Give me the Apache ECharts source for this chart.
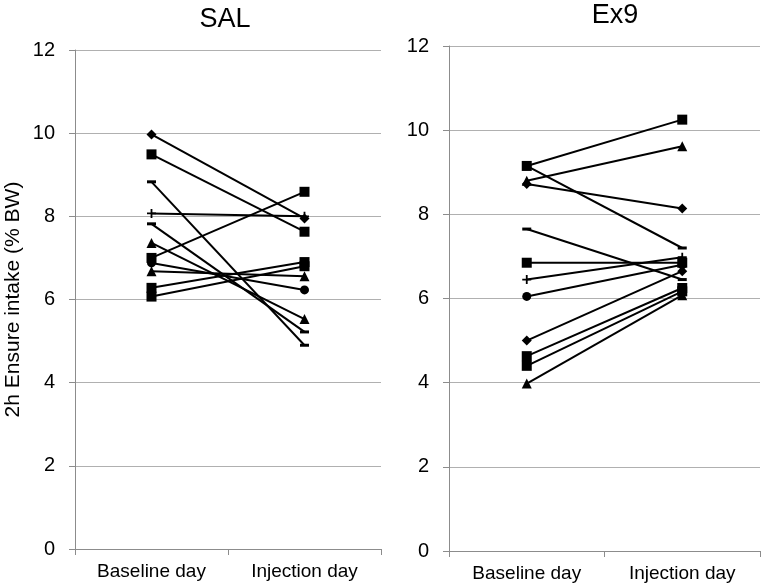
<!DOCTYPE html>
<html><head><meta charset="utf-8">
<script src="https://cdn.jsdelivr.net/npm/echarts@6/dist/echarts.min.js"></script>
<style>html,body{margin:0;padding:0;background:#fff}#c{width:763px;height:586px}</style>
</head><body><div id="c"></div>
<script>
const categories = ['Baseline day', 'Injection day'];
const yTicks = [0, 2, 4, 6, 8, 10, 12];
const panelTitles = ['SAL', 'Ex9'];
const yAxisTitle = '2h Ensure intake (% BW)';

const salBaseline  = [9.97, 9.49, 8.83, 8.07, 7.82, 7.36, 7.00, 6.88, 6.68, 6.28, 6.07];
const salInjection = [7.95, 7.63, 4.90, 8.00, 5.22, 5.53, 8.59, 6.23, 6.56, 6.90, 6.80];
const salMarkers   = ['diamond','rect','dash','plus','dash','triangle','rect','circle','triangle','rect','rect'];

const ex9Baseline  = [9.15, 9.15, 8.80, 8.72, 7.65, 6.85, 6.45, 6.05, 5.00, 4.63, 4.40, 3.98];
const ex9Injection = [10.25, 7.20, 9.62, 8.14, 6.45, 6.85, 6.98, 6.80, 6.65, 6.25, 6.17, 6.08];
const ex9Markers   = ['rect','dash','triangle','diamond','dash','rect','plus','circle','diamond','rect','rect','triangle'];

const shapes = {
  diamond: {symbol: 'diamond', size: 10},
  rect: {symbol: 'rect', size: 10},
  triangle: {symbol: 'triangle', size: 10},
  circle: {symbol: 'circle', size: 9},
  dash: {symbol: 'path://M0,0L10,0L10,3L0,3Z', size: [9, 3]},
  plus: {symbol: 'path://M4,0H6V4H10V6H6V10H4V6H0V4H4Z', size: 9}
};

const chart = echarts.init(document.getElementById('c'), null, {renderer: 'canvas'});
const FONT = 'Liberation Sans, Arial, sans-serif';

function makeX(gi) {
  return {
    type: 'category', gridIndex: gi, data: categories, boundaryGap: true,
    axisLine: {lineStyle: {color: '#8c8c8c', width: 1}},
    axisTick: {show: true, length: 6, alignWithLabel: false, lineStyle: {color: '#8c8c8c'}},
    axisLabel: {color: '#000', fontSize: 19, fontFamily: FONT, margin: 13}
  };
}
function makeY(gi) {
  return {
    type: 'value', gridIndex: gi, min: 0, max: 12, interval: 2,
    axisLine: {show: true, lineStyle: {color: '#8c8c8c', width: 1}},
    axisTick: {show: true, length: 6, lineStyle: {color: '#8c8c8c'}},
    splitLine: {show: true, lineStyle: {color: '#b0b0b0', width: 1}},
    axisLabel: {color: '#000', fontSize: 20, fontFamily: FONT, margin: 20,
      formatter: v => yTicks.indexOf(v) >= 0 ? String(v) : ''},
    name: gi === 0 ? yAxisTitle : '', nameLocation: 'middle', nameGap: 51,
    nameTextStyle: {color: '#000', fontSize: 21, fontFamily: FONT}
  };
}

function makeSeries(base, inj, marks, gi) {
  return base.map((b, i) => {
    const s = shapes[marks[i]];
    return {
      type: 'line', xAxisIndex: gi, yAxisIndex: gi,
      data: [[categories[0], b], [categories[1], inj[i]]],
      symbol: s.symbol, symbolSize: s.size, showSymbol: true,
      lineStyle: {color: '#000', width: 2},
      itemStyle: {color: '#000', borderWidth: 0},
      emphasis: {disabled: true}, animation: false, z: 3
    };
  });
}

chart.setOption({
  backgroundColor: '#fff',
  animation: false,
  title: [
    {text: panelTitles[0], left: 220, top: 1, textAlign: 'center',
     textStyle: {fontSize: 27, fontWeight: 'normal', color: '#000', fontFamily: FONT}},
    {text: panelTitles[1], left: 610, top: -3, textAlign: 'center',
     textStyle: {fontSize: 27, fontWeight: 'normal', color: '#000', fontFamily: FONT}}
  ],
  grid: [
    {left: 75, width: 306, top: 50, height: 499, containLabel: false},
    {left: 449, width: 311, top: 46, height: 505, containLabel: false}
  ],
  xAxis: [makeX(0), makeX(1)],
  yAxis: [makeY(0), makeY(1)],
  series: [].concat(makeSeries(salBaseline, salInjection, salMarkers, 0),
                    makeSeries(ex9Baseline, ex9Injection, ex9Markers, 1))
});
</script></body></html>
